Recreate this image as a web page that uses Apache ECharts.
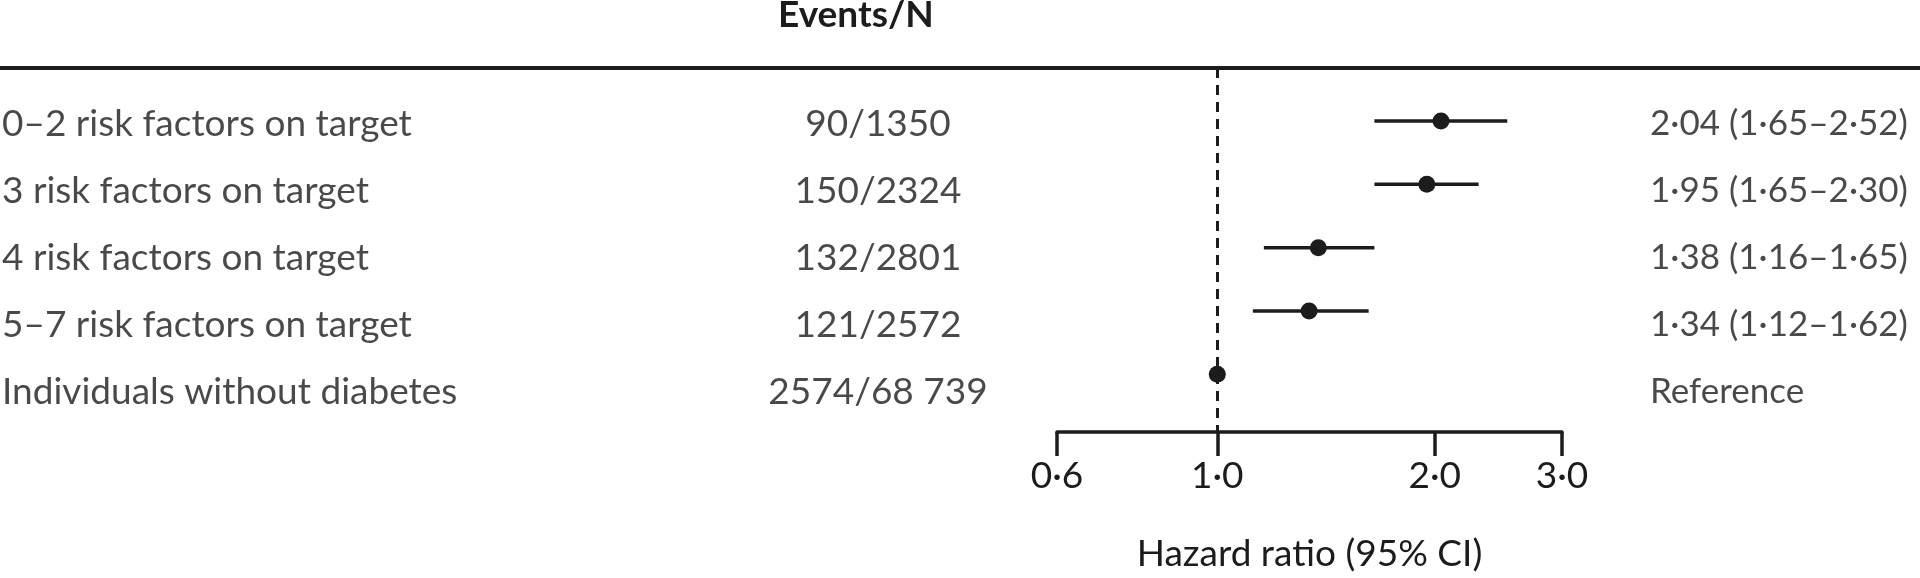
<!DOCTYPE html>
<html>
<head>
<meta charset="utf-8">
<script src="https://cdn.jsdelivr.net/npm/echarts@6/dist/echarts.min.js"></script>
<style>
  html, body { margin: 0; padding: 0; background: #fff; }
  #chart { width: 1920px; height: 578px; }
</style>
</head>
<body>
<div id="chart"></div>
<script>
// rows, top to bottom
let groups = [
  "0–2 risk factors on target",
  "3 risk factors on target",
  "4 risk factors on target",
  "5–7 risk factors on target",
  "Individuals without diabetes"
];
let events = [90, 150, 132, 121, 2574];
let totals = [1350, 2324, 2801, 2572, 68739];
let hr = [2.04, 1.95, 1.38, 1.34, 1.0];
let hrLow = [1.65, 1.65, 1.16, 1.12, null];
let hrHigh = [2.52, 2.30, 1.65, 1.62, null];
let refIndex = 4;
let xTicks = [0.6, 1.0, 2.0, 3.0];

let ink = "#1c1c1c";
let font = "Lato";
let fs = 37;

// text column anchors (page x)
let colLabel = 2;
let colEvents = 878;
let colHr = 1650;

function dot(v, d) { return v.toFixed(d).replace(".", "·"); }
function fmtN(n) {
  let s = String(n);
  if (n >= 10000) s = s.slice(0, s.length - 3) + " " + s.slice(-3);
  return s;
}

let ciData = [];
let pointData = [];
let labelData = [];
let eventData = [];
let hrData = [];
for (let i = 0; i < groups.length; i++) {
  if (hrLow[i] != null) ciData.push([hrLow[i], hrHigh[i], i]);
  pointData.push([hr[i], i]);
  labelData.push({ value: [colLabel, i], name: groups[i] });
  eventData.push({ value: [colEvents, i], name: events[i] + "/" + fmtN(totals[i]) });
  let t = i === refIndex ? "Reference" : dot(hr[i], 2) + " (" + dot(hrLow[i], 2) + "–" + dot(hrHigh[i], 2) + ")";
  hrData.push({ value: [colHr, i], name: t });
}

let yRange = { min: -0.836, max: 4.91 };

let textLabel = (pos, size) => ({
  show: true,
  position: pos,
  distance: 0,
  formatter: "{b}",
  color: ink,
  fontFamily: font,
  fontSize: size || fs
});

let myChart = echarts.init(document.getElementById("chart"), null, { renderer: "canvas" });

let option = {
  animation: false,
  backgroundColor: "#fff",
  textStyle: { fontFamily: font },
  graphic: [{
    type: "text",
    left: 778,
    top: -3,
    style: { text: "Events/N", fontFamily: font, fontSize: fs, fontWeight: "bold", fill: ink }
  }],
  grid: [
    { left: 1057, right: 358, top: 68, bottom: 125 },
    { left: 0, right: 0, top: 68, bottom: 125 }
  ],
  xAxis: [
    {
      type: "log",
      gridIndex: 0,
      min: 0.6,
      max: 3,
      name: "Hazard ratio (95% CI)",
      nameLocation: "middle",
      nameGap: 104,
      nameTextStyle: { color: ink, fontFamily: font, fontSize: fs },
      axisLine: { show: true, onZero: false, lineStyle: { color: ink, width: 3.5 } },
      axisTick: { show: true, customValues: xTicks, length: 24, lineStyle: { color: ink, width: 3.5 } },
      axisLabel: {
        customValues: xTicks,
        formatter: (v) => dot(v, 1),
        margin: 26,
        color: ink,
        fontFamily: font,
        fontSize: fs
      },
      splitLine: { show: false },
      minorTick: { show: false }
    },
    {
      type: "value",
      gridIndex: 1,
      position: "top",
      min: 0,
      max: 1920,
      axisLine: { show: true, onZero: false, lineStyle: { color: ink, width: 4 } },
      axisTick: { show: false },
      axisLabel: { show: false },
      splitLine: { show: false }
    }
  ],
  yAxis: [
    { type: "value", gridIndex: 0, inverse: true, min: yRange.min, max: yRange.max, show: false },
    { type: "value", gridIndex: 1, inverse: true, min: yRange.min, max: yRange.max, show: false }
  ],
  series: [
    {
      type: "custom",
      xAxisIndex: 0,
      yAxisIndex: 0,
      data: ciData,
      encode: { x: [0, 1], y: 2 },
      renderItem: function (params, api) {
        let a = api.coord([api.value(0), api.value(2)]);
        let b = api.coord([api.value(1), api.value(2)]);
        return {
          type: "line",
          shape: { x1: a[0], y1: a[1], x2: b[0], y2: b[1] },
          style: { stroke: ink, lineWidth: 3.5 }
        };
      },
      z: 3
    },
    {
      type: "scatter",
      xAxisIndex: 0,
      yAxisIndex: 0,
      data: pointData,
      symbol: "circle",
      symbolSize: 17,
      itemStyle: { color: ink, opacity: 1 },
      z: 4,
      markLine: {
        silent: true,
        symbol: "none",
        label: { show: false },
        lineStyle: { color: ink, width: 3, type: [10, 7], opacity: 1 },
        data: [{ xAxis: 1 }]
      }
    },
    {
      type: "scatter", xAxisIndex: 1, yAxisIndex: 1,
      data: labelData, symbolSize: 0, label: textLabel("right"), silent: true
    },
    {
      type: "scatter", xAxisIndex: 1, yAxisIndex: 1,
      data: eventData, symbolSize: 0, label: textLabel("inside"), silent: true
    },
    {
      type: "scatter", xAxisIndex: 1, yAxisIndex: 1,
      data: hrData, symbolSize: 0, label: textLabel("right", 35), silent: true
    }
  ]
};

myChart.setOption(option);
</script>
</body>
</html>
